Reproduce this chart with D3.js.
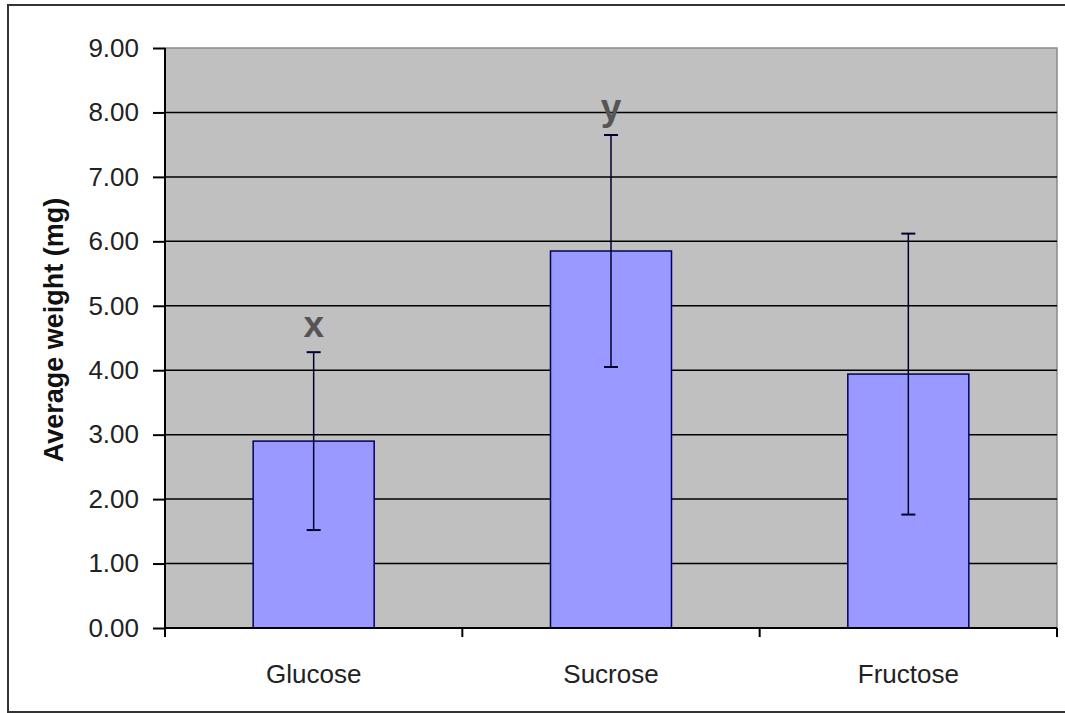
<!DOCTYPE html>
<html>
<head>
<meta charset="utf-8">
<script src="https://cdn.jsdelivr.net/npm/d3@7"></script>
<style>
  body { margin: 0; background: #fff; }
  svg { display: block; font-family: Arial, "Liberation Sans", sans-serif; }
</style>
</head>
<body>
<svg id="chart"></svg>
<script>
/* Data */
const sugars = ["Glucose", "Sucrose", "Fructose"];
const means = [2.90, 5.85, 3.94];
const errors = [1.38, 1.80, 2.18];
const marks = ["x", "y", ""];
const yTicks = [0, 1, 2, 3, 4, 5, 6, 7, 8, 9];

/* Dimensions */
const width = 1065;
const height = 713;
const margin = { top: 48, right: 8, bottom: 85, left: 165 };
const plotW = width - margin.left - margin.right;
const plotH = height - margin.top - margin.bottom;

const svg = d3.select("#chart").attr("width", width).attr("height", height);

/* Outer chart border */
svg.append("rect")
    .attr("x", 8).attr("y", 5)
    .attr("width", 1070).attr("height", 707)
    .attr("fill", "#fff")
    .attr("stroke", "#333")
    .attr("stroke-width", 2);

const g = svg.append("g").attr("transform", `translate(${margin.left},${margin.top})`);

/* Scales */
const x = d3.scaleBand()
    .domain(sugars)
    .range([0, plotW])
    .paddingInner(0.593)
    .paddingOuter(0.2965);

const y = d3.scaleLinear().domain([0, 9]).range([plotH, 0]);

/* Plot background */
g.append("rect")
    .attr("width", plotW).attr("height", plotH)
    .attr("fill", "#c0c0c0")
    .attr("stroke", "#8a8a8a")
    .attr("stroke-width", 1.5);

/* Gridlines */
g.selectAll(".grid")
    .data(yTicks.filter(d => d > 0 && d < 9))
    .join("line")
      .attr("x1", 0).attr("x2", plotW)
      .attr("y1", d => y(d)).attr("y2", d => y(d))
      .attr("stroke", "#000")
      .attr("stroke-width", 1.5);

/* Bars */
g.selectAll(".bar")
    .data(sugars)
    .join("rect")
      .attr("x", d => x(d))
      .attr("y", (d, i) => y(means[i]))
      .attr("width", x.bandwidth())
      .attr("height", (d, i) => y(0) - y(means[i]))
      .attr("fill", "#9999ff")
      .attr("stroke", "#000060")
      .attr("stroke-width", 1.5);

/* Error bars */
const cx = d => x(d) + x.bandwidth() / 2;
const errG = g.selectAll(".err").data(sugars).join("g");
errG.append("line")
    .attr("x1", cx).attr("x2", cx)
    .attr("y1", (d, i) => y(means[i] - errors[i]))
    .attr("y2", (d, i) => y(means[i] + errors[i]))
    .attr("stroke", "#000030").attr("stroke-width", 1.5);
errG.append("line")
    .attr("x1", d => cx(d) - 7).attr("x2", d => cx(d) + 7)
    .attr("y1", (d, i) => y(means[i] + errors[i]))
    .attr("y2", (d, i) => y(means[i] + errors[i]))
    .attr("stroke", "#000030").attr("stroke-width", 2);
errG.append("line")
    .attr("x1", d => cx(d) - 7).attr("x2", d => cx(d) + 7)
    .attr("y1", (d, i) => y(means[i] - errors[i]))
    .attr("y2", (d, i) => y(means[i] - errors[i]))
    .attr("stroke", "#000030").attr("stroke-width", 2);

/* Significance letters */
g.selectAll(".mark")
    .data(sugars)
    .join("text")
      .attr("x", cx)
      .attr("y", (d, i) => y(means[i] + errors[i]) - 15)
      .attr("text-anchor", "middle")
      .attr("font-size", 37)
      .attr("font-weight", "bold")
      .attr("fill", "#555")
      .text((d, i) => marks[i]);

/* Y axis */
const yAxis = g.append("g")
    .call(d3.axisLeft(y).tickValues(yTicks).tickFormat(d3.format(".2f")).tickSize(12).tickPadding(14));
yAxis.select(".domain").attr("stroke", "#000").attr("stroke-width", 2).attr("d", `M0,0V${plotH}`);
yAxis.selectAll(".tick line").attr("stroke", "#000").attr("stroke-width", 2);
yAxis.selectAll(".tick text").attr("font-size", 26).attr("fill", "#222").attr("font-family", "Arial, 'Liberation Sans', sans-serif");

/* X axis: ticks at category boundaries */
const boundary = i => i * x.step() + x.step() * x.paddingOuter() - x.step() * x.paddingInner() / 2;
const xAxis = g.append("g").attr("transform", `translate(0,${plotH})`);
xAxis.append("line")
    .attr("x1", 0).attr("x2", plotW)
    .attr("stroke", "#000").attr("stroke-width", 2);
xAxis.selectAll(".xt")
    .data(d3.range(sugars.length + 1))
    .join("line")
      .attr("x1", boundary)
      .attr("x2", boundary)
      .attr("y1", 0).attr("y2", 9)
      .attr("stroke", "#000").attr("stroke-width", 2);
xAxis.selectAll(".xl")
    .data(sugars)
    .join("text")
      .attr("x", cx)
      .attr("y", 55)
      .attr("text-anchor", "middle")
      .attr("font-size", 26)
      .attr("fill", "#222")
      .text(d => d);

/* Y axis title */
svg.append("text")
    .attr("transform", `translate(63,${margin.top + plotH / 2 - 8}) rotate(-90)`)
    .attr("text-anchor", "middle")
    .attr("font-size", 27)
    .attr("font-weight", "bold")
    .attr("fill", "#111")
    .text("Average weight (mg)");
</script>
</body>
</html>
